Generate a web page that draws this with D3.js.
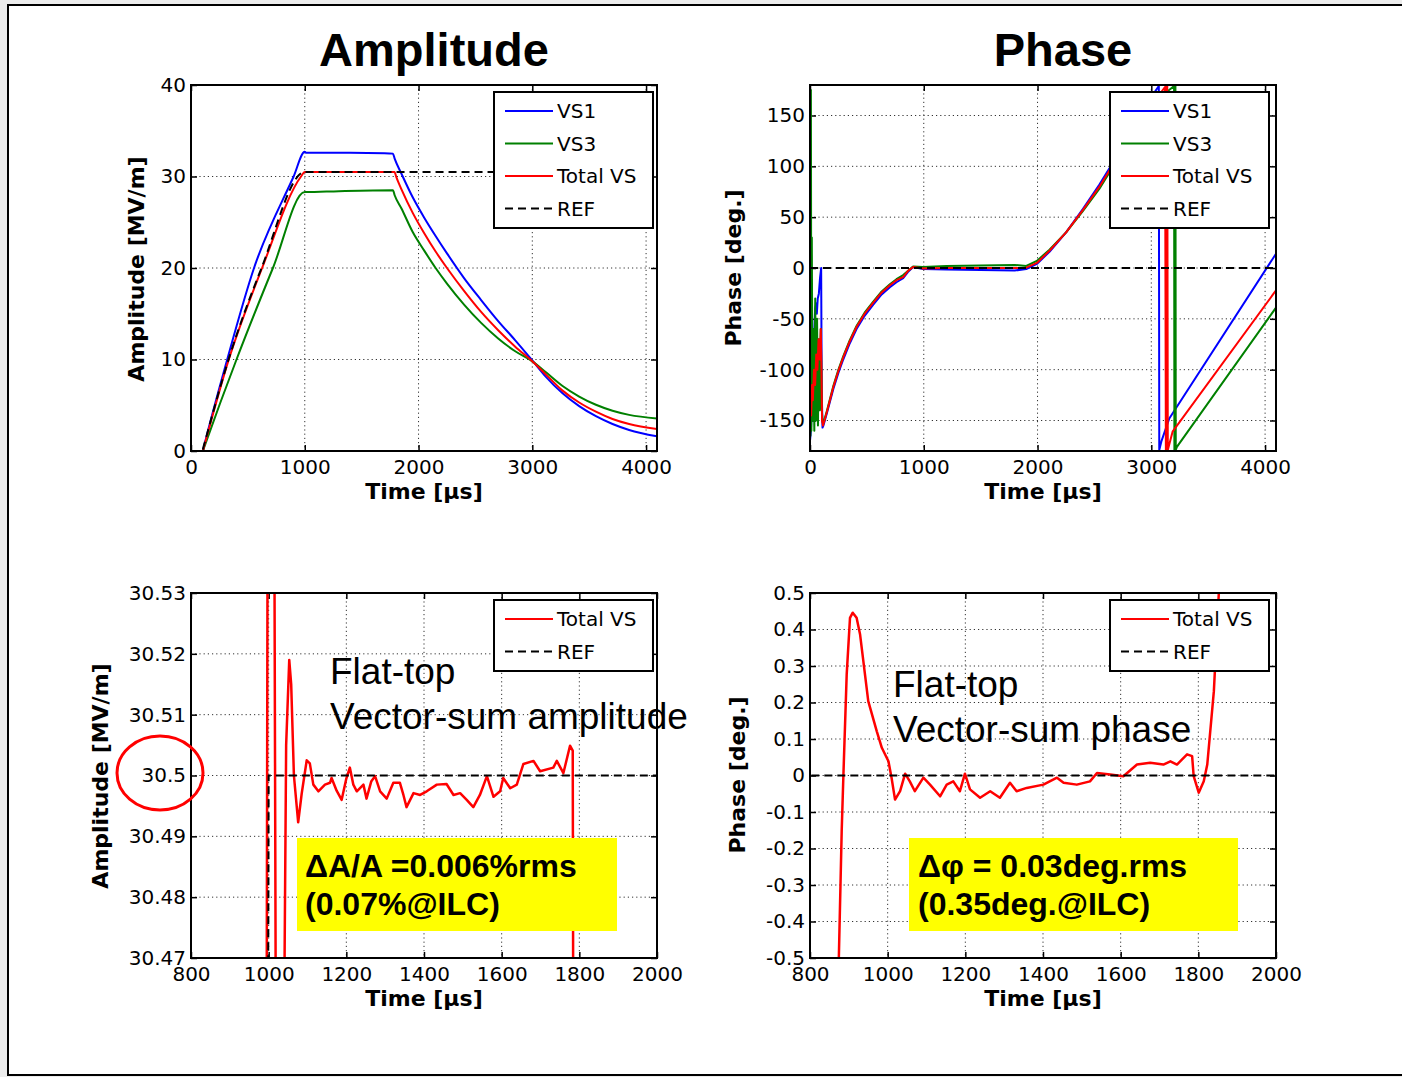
<!DOCTYPE html>
<html>
<head>
<meta charset="utf-8">
<script src="https://cdn.jsdelivr.net/npm/d3@7"></script>
<style>
body { margin: 0; background: #ececec; }
svg { display: block; }
</style>
</head>
<body>
<svg id="chart" width="1402" height="1077"></svg>
<script>
// ---- data: [time in us, value] ----
const ampTicksX = [0, 1000, 2000, 3000, 4000];
const ampTicksY = [0, 10, 20, 30, 40];
const phaseTicksY = [-150, -100, -50, 0, 50, 100, 150];
const zoomTicksX = [800, 1000, 1200, 1400, 1600, 1800, 2000];
const zoomAmpTicksY = [30.47, 30.48, 30.49, 30.5, 30.51, 30.52, 30.53];
const zoomPhaseTicksY = [-0.5, -0.4, -0.3, -0.2, -0.1, 0, 0.1, 0.2, 0.3, 0.4, 0.5];

const ampVs1 = [[0,0],[104,0],[114,0.5],[316,9.9],[554,20],[902,30],[1000,32.7],[1010,32.6],[1400,32.6],
  [1700,32.55],[1775,32.5],[1790,31.95],[1850,30.3],[1950,27.7],[2050,25.5],[2150,23.5],[2250,21.6],[2400,18.9],
  [2550,16.5],[2700,14.2],[2850,12.1],[3000,9.9],[3120,8.1],[3266,6.3],[3412,4.9],[3559,3.8],[3705,2.95],
  [3851,2.3],[4096,1.6]];
const ampVs3 = [[0,0],[104,0],[114,0.35],[400,10],[720,20],[1000,28.3],[1010,28.3],[1300,28.4],[1775,28.5],
  [1790,27.95],[1850,26.5],[1950,23.9],[2050,21.9],[2150,20.0],[2250,18.3],[2400,16.0],[2550,14.0],[2700,12.3],
  [2850,10.9],[3000,9.8],[3120,8.6],[3266,7.1],[3412,5.95],[3559,5.05],[3705,4.4],[3851,3.95],[4096,3.55]];
const ampTotal = [[0,0],[104,0],[114,0.45],[332,10],[625,20],[967,30],[1000,30.5],[1789,30.5],[1804,29.95],
  [1850,28.6],[1950,26.0],[2050,23.8],[2150,21.8],[2250,20.0],[2400,17.5],[2550,15.2],[2700,13.2],[2850,11.4],
  [3000,9.8],[3120,8.35],[3266,6.6],[3412,5.3],[3559,4.3],[3705,3.5],[3851,2.95],[4096,2.4]];
const ampRef = [[0,0],[100,0],[110,0.45],[330,10],[620,20],[1000,30.5],[4096,30.5]];

const phaseVs1 = [[0,-170],[8,-160],[15,-140],[25,-110],[35,-70],[45,-40],[55,-35],[60,-45],[68,-30],[78,-25],
  [88,-10],[98,0],[103,-120],[110,-157],[118,-155],[150,-142],[205,-119],[250,-103],[292,-90],[350,-74],[409,-60],
  [480,-47],[556,-36],[630,-26],[702,-19],[760,-14],[819,-10],[860,-4],[906,1],[994,-1],[1200,-1.5],[1500,-2],
  [1800,-2.5],[1901,-1],[1994,4],[2105,16],[2251,35],[2398,58],[2544,82],[2632,98],[2800,130],[2950,160],
  [3066,179],[3070,-179],[3090,-170],[3158,-148],[4096,14]];
const phaseVs3 = [[0,178],[4,-165],[8,175],[12,-160],[16,30],[22,-150],[30,-60],[38,-160],[46,-30],[54,-150],
  [62,-50],[70,-155],[78,-70],[86,-140],[94,-60],[100,-100],[104,-140],[112,-152],[120,-152],[150,-140],
  [205,-116],[250,-100],[292,-87],[350,-71],[409,-57],[480,-44],[556,-33],[630,-23],[702,-16],[760,-11],
  [819,-7],[860,-3],[906,1.5],[994,1],[1200,2],[1500,2.5],[1800,3],[1901,2],[1994,7],[2105,18],[2251,35],
  [2398,56],[2544,78],[2632,94],[2800,123],[2950,150],[3100,170],[3200,179],[3203,-179],[3206,179],[3209,-179],
  [3212,179],[3215,-179],[3225,-176],[4096,-39]];
const phaseTotal = [[0,-150],[5,-125],[10,-145],[18,-115],[25,-130],[35,-100],[45,-115],[55,-85],[65,-100],
  [75,-70],[85,-90],[95,-60],[100,-95],[106,-150],[114,-155],[122,-152],[150,-141],[205,-117],[250,-101],
  [292,-88],[350,-72],[409,-58],[480,-45],[556,-34],[630,-24],[702,-17],[760,-12],[819,-9],[860,-3],[906,1],
  [994,-0.5],[1200,0],[1500,0],[1800,0],[1901,0.3],[1994,5],[2105,17],[2251,35],[2398,57],[2544,80],[2632,96],
  [2800,126],[2950,152],[3120,178],[3128,-179],[3132,179],[3136,-179],[3140,179],[3145,-179],[3187,-161],
  [4096,-22]];
const phaseRef = [[0,0],[4096,0]];

const zoomAmpTotal = [[800,30.0],[993,30.40],[999,30.60],[1012,30.60],[1021,30.40],[1033,30.40],[1045,30.505],
  [1053,30.519],[1058,30.515],[1065,30.5],[1076,30.4923],[1085,30.497],[1098,30.5025],[1106,30.502],[1115,30.4985],
  [1128,30.4974],[1145,30.4985],[1158,30.4988],[1162,30.4996],[1175,30.4975],[1188,30.496],[1200,30.4995],
  [1209,30.5013],[1218,30.4985],[1227,30.4974],[1244,30.4985],[1252,30.4962],[1264,30.499],[1274,30.4999],
  [1287,30.4974],[1304,30.4962],[1321,30.4988],[1338,30.4988],[1347,30.4968],[1355,30.4948],[1373,30.4971],
  [1390,30.4968],[1407,30.4974],[1433,30.4985],[1458,30.4986],[1476,30.4968],[1493,30.4971],[1510,30.496],
  [1527,30.4948],[1544,30.4968],[1562,30.4999],[1579,30.4965],[1596,30.4974],[1604,30.4996],[1622,30.4979],
  [1639,30.4985],[1656,30.5019],[1682,30.5024],[1699,30.5007],[1733,30.5013],[1742,30.5024],[1759,30.5004],
  [1776,30.5049],[1783,30.5041],[1786,30.40],[2000,29.0]];
const zoomPhaseTotal = [[870,-0.7],[881.6,-0.153],[886,0],[894.5,0.277],[903,0.432],[910,0.446],[920,0.432],
  [929,0.386],[950,0.204],[972,0.121],[985,0.076],[1002,0.039],[1010,-0.006],[1019,-0.066],[1032,-0.043],
  [1045,0.005],[1057,-0.016],[1070,-0.043],[1092,-0.006],[1109,-0.025],[1135,-0.057],[1152,-0.025],[1169,-0.016],
  [1186,-0.043],[1199,0.005],[1212,-0.038],[1238,-0.061],[1264,-0.043],[1289,-0.061],[1315,-0.020],[1332,-0.043],
  [1358,-0.034],[1401,-0.025],[1436,-0.006],[1453,-0.020],[1487,-0.025],[1521,-0.016],[1539,0.007],[1573,0.003],
  [1607,-0.002],[1642,0.030],[1676,0.035],[1710,0.030],[1728,0.039],[1745,0.030],[1771,0.058],[1784,0.053],
  [1788,-0.002],[1801,-0.047],[1814,-0.016],[1823,0.030],[1840,0.231],[1853,0.505],[1870,0.8]];

const BLUE = "#0000ff", GREEN = "#008000", RED = "#ff0000";
const TICK_FONT = "DejaVu Sans, Verdana, sans-serif";

const svg = d3.select("#chart");

// slide frame
svg.append("rect")
    .attr("x", 8).attr("y", 5)
    .attr("width", 1400).attr("height", 1070)
    .attr("fill", "white")
    .attr("stroke", "black")
    .attr("stroke-width", 2);

function drawPanel(p) {
    const x = d3.scaleLinear().domain(p.xDomain).range([p.left, p.right]);
    const y = d3.scaleLinear().domain(p.yDomain).range([p.bottom, p.top]);
    const g = svg.append("g");

    svg.append("clipPath").attr("id", "clip-" + p.id)
        .append("rect")
        .attr("x", p.left).attr("y", p.top)
        .attr("width", p.right - p.left).attr("height", p.bottom - p.top);

    // dotted grid
    g.append("g").selectAll("line")
        .data(p.xTicks)
        .enter()
        .append("line")
        .attr("x1", d => x(d)).attr("x2", d => x(d))
        .attr("y1", p.top).attr("y2", p.bottom)
        .attr("stroke", "#333")
        .attr("stroke-dasharray", "1.2,3");
    g.append("g").selectAll("line")
        .data(p.yTicks)
        .enter()
        .append("line")
        .attr("x1", p.left).attr("x2", p.right)
        .attr("y1", d => y(d)).attr("y2", d => y(d))
        .attr("stroke", "#333")
        .attr("stroke-dasharray", "1.2,3");

    // inside ticks on all four sides
    const fmt = d => String(d);
    const axes = [
        g.append("g").attr("transform", `translate(0,${p.bottom})`)
            .call(d3.axisBottom(x).tickValues(p.xTicks).tickSize(-6).tickSizeOuter(0).tickPadding(9).tickFormat(fmt)),
        g.append("g").attr("transform", `translate(${p.left},0)`)
            .call(d3.axisLeft(y).tickValues(p.yTicks).tickSize(-6).tickSizeOuter(0).tickPadding(5).tickFormat(fmt)),
        g.append("g").attr("transform", `translate(0,${p.top})`)
            .call(d3.axisTop(x).tickValues(p.xTicks).tickSize(-6).tickSizeOuter(0).tickFormat("")),
        g.append("g").attr("transform", `translate(${p.right},0)`)
            .call(d3.axisRight(y).tickValues(p.yTicks).tickSize(-6).tickSizeOuter(0).tickFormat(""))
    ];
    axes.forEach(a => {
        a.attr("font-family", TICK_FONT).attr("font-size", 20);
        a.select(".domain").remove();
        a.selectAll(".tick line").attr("stroke", "black").attr("stroke-width", 1.5);
        a.selectAll(".tick text").attr("fill", "black");
    });

    // series
    const line = d3.line()
        .x(d => x(d[0]))
        .y(d => y(d[1]))
        .curve(p.smooth ? d3.curveMonotoneX : d3.curveLinear);
    const plot = g.append("g").attr("clip-path", `url(#clip-${p.id})`);
    p.series.forEach(s => {
        plot.append("path")
            .datum(s.data)
            .attr("d", line)
            .attr("fill", "none")
            .attr("stroke", s.color)
            .attr("stroke-width", s.width || 2)
            .attr("stroke-linejoin", "round")
            .attr("stroke-dasharray", s.dash || null);
    });

    // box
    g.append("rect")
        .attr("x", p.left).attr("y", p.top)
        .attr("width", p.right - p.left).attr("height", p.bottom - p.top)
        .attr("fill", "none")
        .attr("stroke", "black")
        .attr("stroke-width", 2);

    // axis labels
    g.append("text")
        .attr("x", (p.left + p.right) / 2)
        .attr("y", p.bottom + 48)
        .attr("text-anchor", "middle")
        .attr("font-family", TICK_FONT)
        .attr("font-weight", "bold")
        .attr("font-size", 22)
        .text("Time [µs]");
    g.append("text")
        .attr("transform", `translate(${p.yLabelX},${p.yLabelY}) rotate(-90)`)
        .attr("text-anchor", "middle")
        .attr("font-family", TICK_FONT)
        .attr("font-weight", "bold")
        .attr("font-size", 22)
        .text(p.yLabel);

    // legend
    const lg = g.append("g");
    const rowH = 32.5;
    const lx = p.legendX;
    const ly = p.top + 7;
    lg.append("rect")
        .attr("x", lx).attr("y", ly)
        .attr("width", 159).attr("height", p.legend.length * rowH + 6)
        .attr("fill", "white")
        .attr("stroke", "black")
        .attr("stroke-width", 2);
    p.legend.forEach((s, i) => {
        const cy = ly + 19 + i * rowH;
        lg.append("line")
            .attr("x1", lx + 11).attr("x2", lx + 59)
            .attr("y1", cy).attr("y2", cy)
            .attr("stroke", s.color)
            .attr("stroke-width", 2)
            .attr("stroke-dasharray", s.dash || null);
        lg.append("text")
            .attr("x", lx + 63).attr("y", cy + 7)
            .attr("font-family", TICK_FONT)
            .attr("font-size", 20)
            .attr("fill", "black")
            .text(s.name);
    });
}

const legend4 = [
    { name: "VS1", color: BLUE },
    { name: "VS3", color: GREEN },
    { name: "Total VS", color: RED },
    { name: "REF", color: "black", dash: "8,5" }
];
const legend2 = [
    { name: "Total VS", color: RED },
    { name: "REF", color: "black", dash: "8,5" }
];

drawPanel({
    id: "amp", left: 191, right: 657, top: 85, bottom: 451, legendX: 494, smooth: true,
    xDomain: [0, 4096], yDomain: [0, 40], xTicks: ampTicksX, yTicks: ampTicksY,
    yLabel: "Amplitude [MV/m]", yLabelX: 144, yLabelY: 269,
    series: [
        { data: ampVs1, color: BLUE },
        { data: ampVs3, color: GREEN },
        { data: ampTotal, color: RED },
        { data: ampRef, color: "black", dash: "8,5" }
    ],
    legend: legend4
});

drawPanel({
    id: "phase", left: 810, right: 1276, top: 85, bottom: 451, legendX: 1110, smooth: false,
    xDomain: [0, 4096], yDomain: [-180, 180], xTicks: ampTicksX, yTicks: phaseTicksY,
    yLabel: "Phase [deg.]", yLabelX: 741, yLabelY: 268,
    series: [
        { data: phaseVs1, color: BLUE },
        { data: phaseVs3, color: GREEN },
        { data: phaseTotal, color: RED },
        { data: phaseRef, color: "black", dash: "8,5" }
    ],
    legend: legend4
});

drawPanel({
    id: "zamp", left: 191, right: 657, top: 593, bottom: 958, legendX: 494, smooth: false,
    xDomain: [800, 2000], yDomain: [30.47, 30.53], xTicks: zoomTicksX, yTicks: zoomAmpTicksY,
    yLabel: "Amplitude [MV/m]", yLabelX: 108, yLabelY: 776,
    series: [
        { data: zoomAmpTotal, color: RED, width: 2.5 },
        { data: ampRef, color: "black", dash: "8,5" }
    ],
    legend: legend2
});

drawPanel({
    id: "zphase", left: 810, right: 1276, top: 593, bottom: 958, legendX: 1110, smooth: false,
    xDomain: [800, 2000], yDomain: [-0.5, 0.5], xTicks: zoomTicksX, yTicks: zoomPhaseTicksY,
    yLabel: "Phase [deg.]", yLabelX: 745, yLabelY: 775,
    series: [
        { data: zoomPhaseTotal, color: RED, width: 2.5 },
        { data: phaseRef, color: "black", dash: "8,5" }
    ],
    legend: legend2
});

// titles
[["Amplitude", 434], ["Phase", 1063]].forEach(t => {
    svg.append("text")
        .attr("x", t[1]).attr("y", 66)
        .attr("text-anchor", "middle")
        .attr("font-family", "Liberation Sans, Arial, sans-serif")
        .attr("font-weight", "bold")
        .attr("font-size", 47)
        .text(t[0]);
});

// slide annotations
function note(x, y, lines, size, bold) {
    lines.forEach((s, i) => {
        svg.append("text")
            .attr("x", x).attr("y", y + i * (bold ? 38 : 45))
            .attr("font-family", "Liberation Sans, Arial, sans-serif")
            .attr("font-size", size)
            .attr("font-weight", bold ? "bold" : "normal")
            .attr("fill", "black")
            .text(s);
    });
}

note(330, 684, ["Flat-top", "Vector-sum amplitude"], 37, false);
note(893, 697, ["Flat-top", "Vector-sum phase"], 37, false);

svg.append("rect").attr("x", 297).attr("y", 838).attr("width", 320).attr("height", 93).attr("fill", "#ffff00");
svg.append("rect").attr("x", 909).attr("y", 838).attr("width", 329).attr("height", 93).attr("fill", "#ffff00");
note(305, 877, ["ΔA/A =0.006%rms", "(0.07%@ILC)"], 32, true);
note(918, 877, ["Δφ = 0.03deg.rms", "(0.35deg.@ILC)"], 32, true);

svg.append("ellipse")
    .attr("cx", 160).attr("cy", 773)
    .attr("rx", 43).attr("ry", 37)
    .attr("fill", "none")
    .attr("stroke", RED)
    .attr("stroke-width", 3);
</script>
</body>
</html>
